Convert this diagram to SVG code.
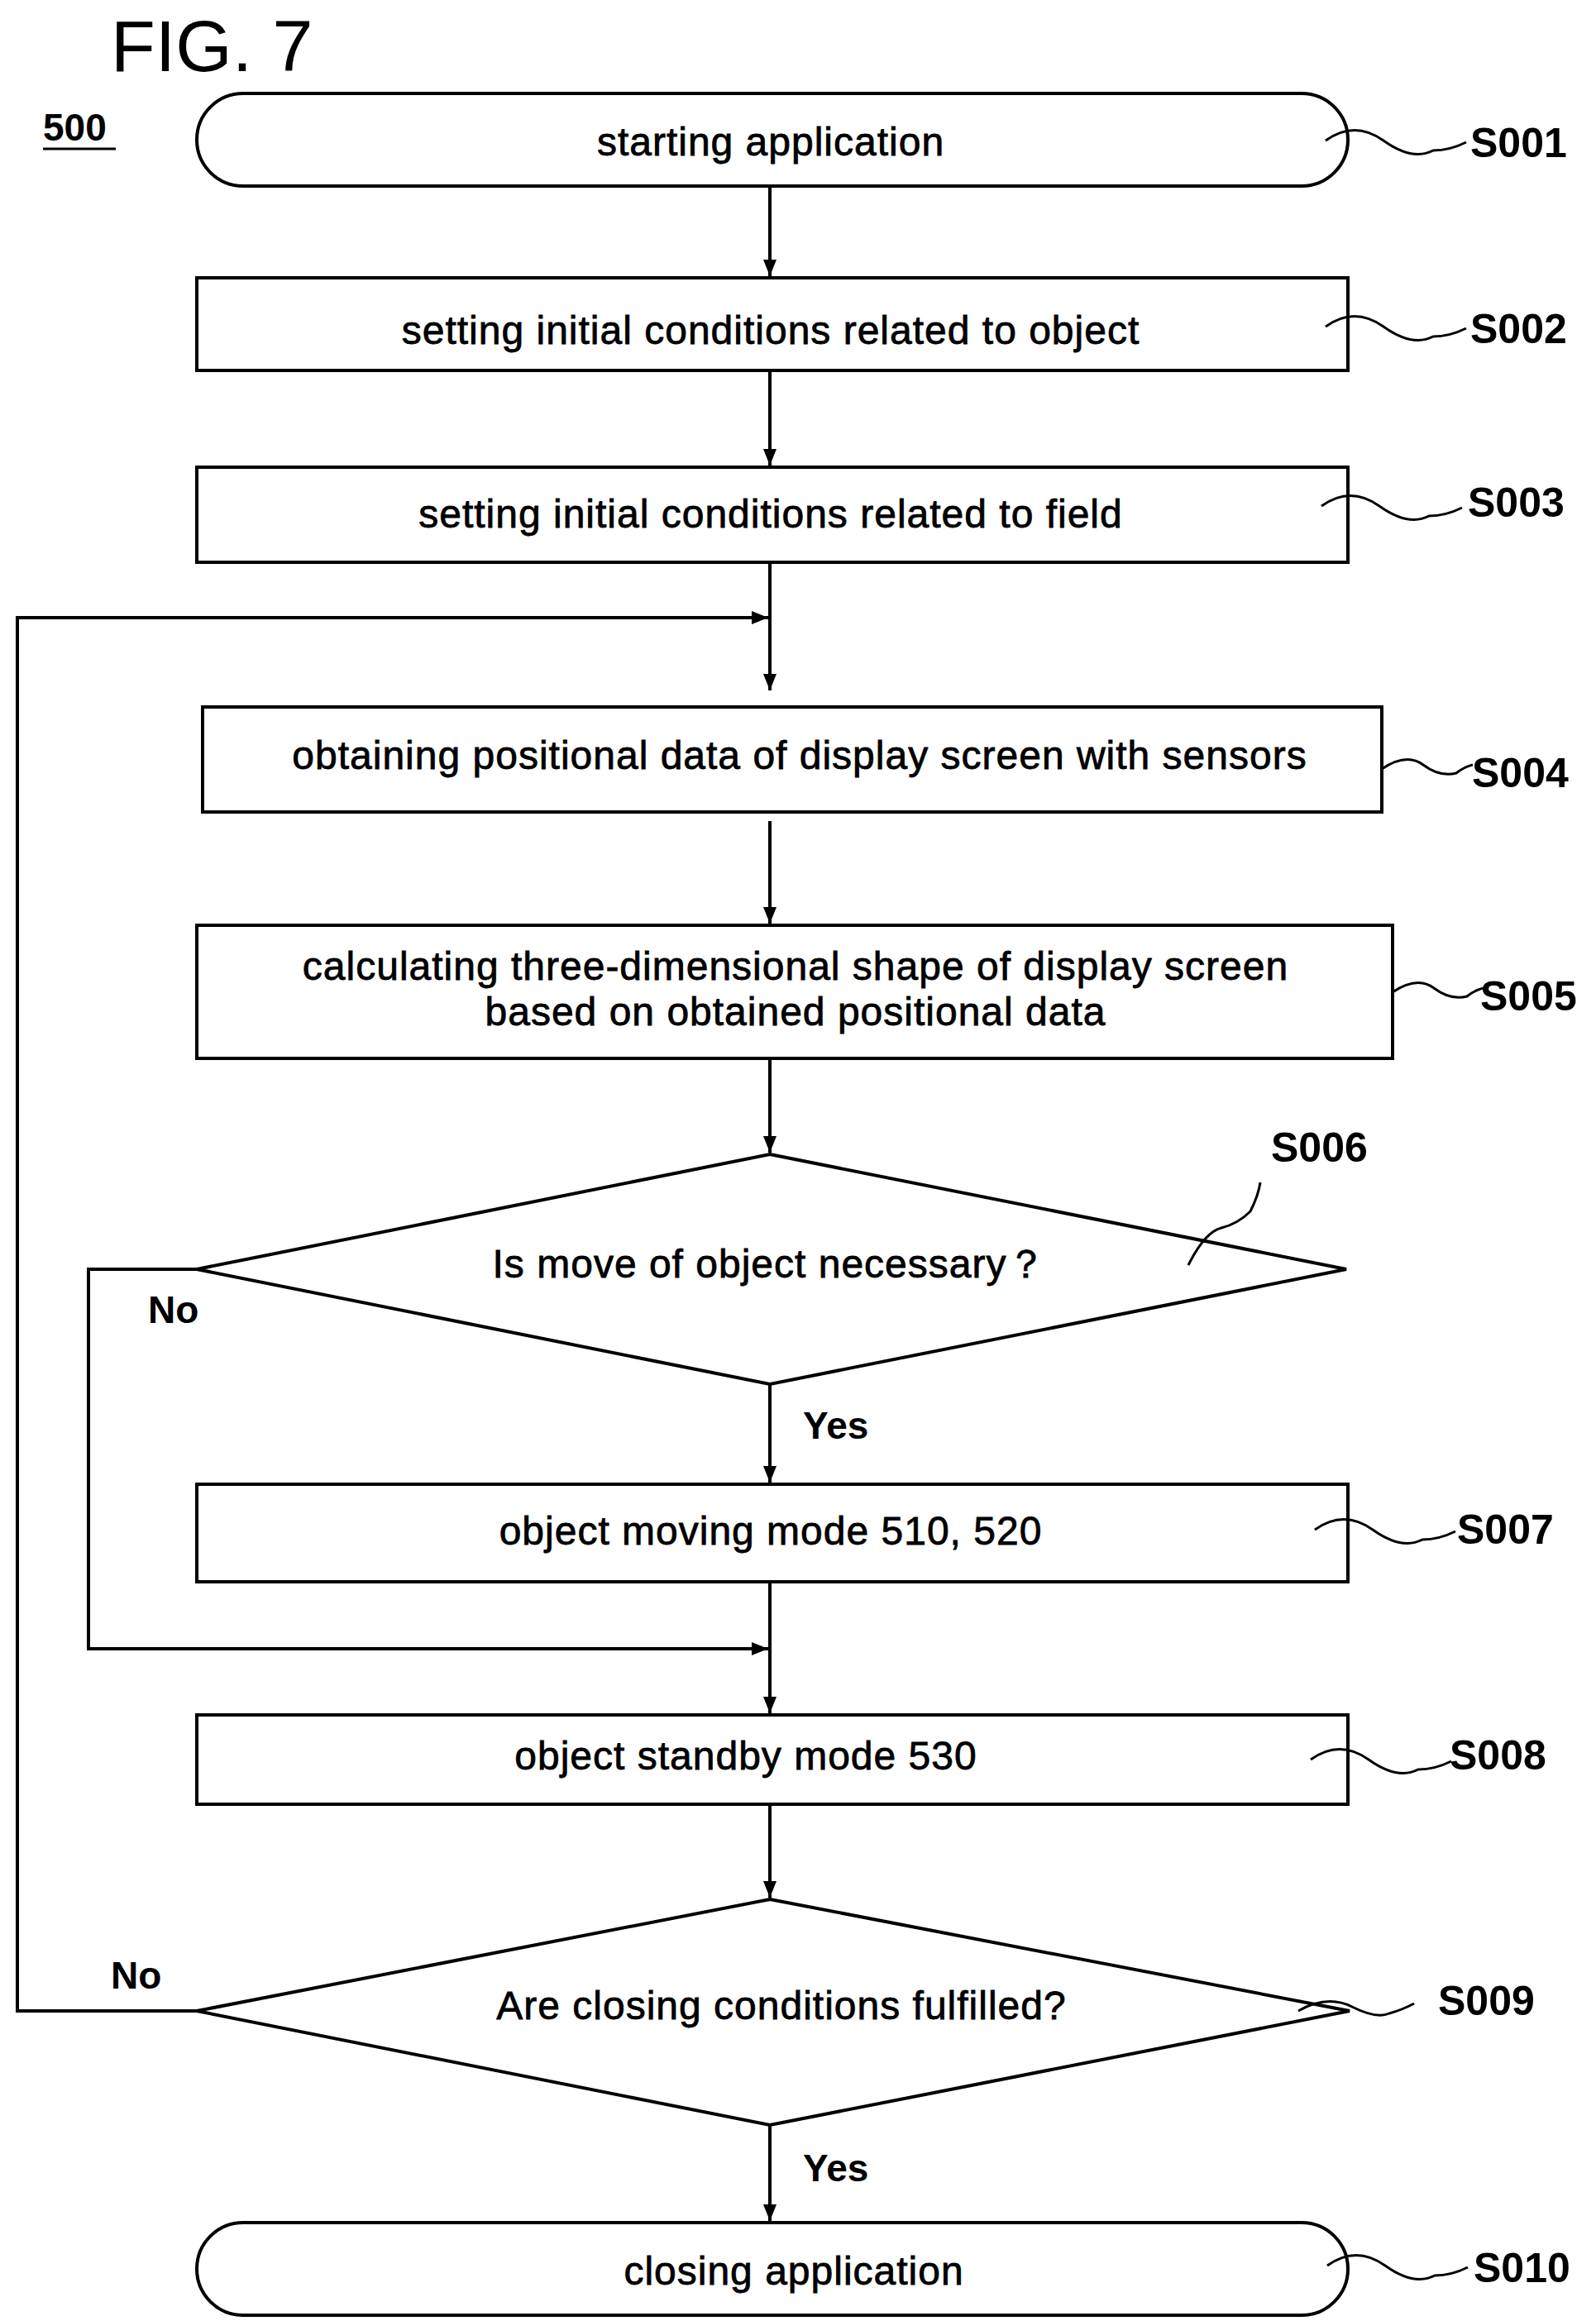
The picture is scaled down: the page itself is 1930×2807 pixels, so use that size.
<svg xmlns="http://www.w3.org/2000/svg" width="1930" height="2807" viewBox="0 0 1930 2807">
<style>
.s{fill:none;stroke:#000;stroke-width:4}
.t{font-family:"Liberation Sans",Arial,sans-serif;font-size:48px;fill:#000;stroke:#000;stroke-width:0.8;text-anchor:middle;letter-spacing:1px}
.l{font-family:"Liberation Sans",Arial,sans-serif;font-size:50px;fill:#000;font-weight:bold}
.w{fill:none;stroke:#000;stroke-width:3}
</style>
<defs>
<marker id="a" viewBox="0 0 20 16" refX="20" refY="8" markerWidth="20" markerHeight="16" markerUnits="userSpaceOnUse" orient="auto"><path d="M0,0 L20,8 L0,16 z" fill="#000"/></marker>
</defs>
<rect width="1930" height="2807" fill="#fff"/>
<text x="134" y="86" style="font-family:'Liberation Sans',Arial,sans-serif;font-size:88px">FIG. 7</text>
<text x="52" y="170" class="l" style="font-size:46px">500</text>
<line x1="52" y1="180" x2="140" y2="180" stroke="#000" stroke-width="3"/>
<g id="S001"><rect x="238" y="113" width="1392" height="112" rx="56" class="s"/><text x="932" y="188" class="t">starting application</text><path class="w" d="M1603,170 q35,-25 70,0 t60,12 q20,0 40,-10"/><text x="1778" y="190" class="l">S001</text></g>
<g id="S002"><rect x="238" y="336" width="1392" height="112" class="s"/><text x="932" y="416" class="t">setting initial conditions related to object</text><path class="w" d="M1603,395 q35,-25 70,0 t60,12 q20,0 40,-10"/><text x="1778" y="415" class="l">S002</text></g>
<g id="S003"><rect x="238" y="565" width="1392" height="115" class="s"/><text x="932" y="638" class="t">setting initial conditions related to field</text><path class="w" d="M1598,612 q35,-25 70,0 t60,12 q20,0 40,-10"/><text x="1775" y="625" class="l">S003</text></g>
<g id="S004"><rect x="245" y="855" width="1426" height="127" class="s"/><text x="967" y="930" class="t">obtaining positional data of display screen with sensors</text><path class="w" d="M1671,930 q30,-20 50,-5 t40,10 q10,-8 20,-10"/><text x="1780" y="952" class="l">S004</text></g>
<g id="S005"><rect x="238" y="1119" width="1446" height="161" class="s"/><text x="962" y="1185" class="t">calculating three-dimensional shape of display screen</text><text x="962" y="1240" class="t">based on obtained positional data</text><path class="w" d="M1684,1200 q30,-20 50,-5 t40,10 q10,-8 20,-10"/><text x="1790" y="1222" class="l">S005</text></g>
<g id="S006"><polygon points="931,1396 1628,1535 931,1674 238,1535" class="s"/><text x="931" y="1545" class="t">Is move of object necessary？</text><path class="w" d="M1437,1530 q20,-40 40,-45 t35,-20 q10,-20 12,-35"/><text x="1537" y="1405" class="l">S006</text></g>
<g id="S007"><rect x="238" y="1795" width="1392" height="118" class="s"/><text x="932" y="1868" class="t">object moving mode 510, 520</text><path class="w" d="M1590,1850 q35,-25 70,0 t60,12 q20,0 40,-10"/><text x="1762" y="1867" class="l">S007</text></g>
<g id="S008"><rect x="238" y="2074" width="1392" height="108" class="s"/><text x="902" y="2140" class="t">object standby mode 530</text><path class="w" d="M1585,2128 q35,-25 70,0 t60,12 q20,0 40,-10"/><text x="1753" y="2140" class="l">S008</text></g>
<g id="S009"><polygon points="931,2297 1632,2432 931,2570 238,2432" class="s"/><text x="945" y="2442" class="t">Are closing conditions fulfilled?</text><path class="w" d="M1570,2432 q35,-20 65,-5 t45,8 q15,-4 30,-12"/><text x="1739" y="2437" class="l">S009</text></g>
<g id="S010"><rect x="238" y="2688" width="1392" height="112" rx="56" class="s"/><text x="960" y="2763" class="t">closing application</text><path class="w" d="M1605,2740 q35,-25 70,0 t60,12 q20,0 40,-10"/><text x="1782" y="2760" class="l">S010</text></g>
<g id="connectors" class="s">
<line x1="931" y1="225" x2="931" y2="334" marker-end="url(#a)"/>
<line x1="931" y1="448" x2="931" y2="563" marker-end="url(#a)"/>
<line x1="931" y1="680" x2="931" y2="835" marker-end="url(#a)"/>
<polyline points="238,2432 21,2432 21,747 929,747" marker-end="url(#a)"/>
<line x1="931" y1="993" x2="931" y2="1117" marker-end="url(#a)"/>
<line x1="931" y1="1280" x2="931" y2="1394" marker-end="url(#a)"/>
<line x1="931" y1="1674" x2="931" y2="1793" marker-end="url(#a)"/>
<polyline points="238,1535 107,1535 107,1994 929,1994" marker-end="url(#a)"/>
<line x1="931" y1="1913" x2="931" y2="2072" marker-end="url(#a)"/>
<line x1="931" y1="2182" x2="931" y2="2295" marker-end="url(#a)"/>
<line x1="931" y1="2570" x2="931" y2="2686" marker-end="url(#a)"/>
</g>
<text x="179" y="1600" class="l" style="font-size:46px">No</text>
<text x="971" y="1740" class="l" style="font-size:46px">Yes</text>
<text x="134" y="2405" class="l" style="font-size:46px">No</text>
<text x="971" y="2638" class="l" style="font-size:46px">Yes</text>
</svg>
